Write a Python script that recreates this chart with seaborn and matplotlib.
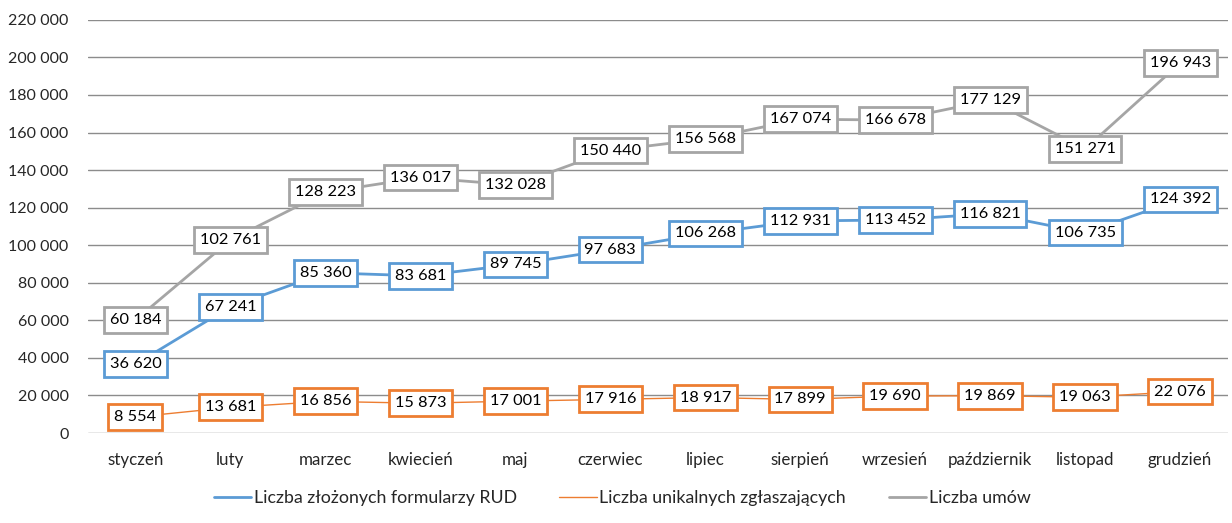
import matplotlib
matplotlib.use("Agg")
import matplotlib.pyplot as plt
import seaborn as sns
import pandas as pd

months = ["styczeń", "luty", "marzec", "kwiecień", "maj", "czerwiec", "lipiec",
          "sierpień", "wrzesień", "październik", "listopad", "grudzień"]
rud = [36620, 67241, 85360, 83681, 89745, 97683, 106268, 112931, 113452, 116821, 106735, 124392]
unikalni = [8554, 13681, 16856, 15873, 17001, 17916, 18917, 17899, 19690, 19869, 19063, 22076]
umowy = [60184, 102761, 128223, 136017, 132028, 150440, 156568, 167074, 166678, 177129, 151271, 196943]
series_names = ["Liczba złożonych formularzy RUD", "Liczba unikalnych zgłaszających", "Liczba umów"]
colors = ["#5B9BD5", "#ED7D31", "#A5A5A5"]
widths = [2.0, 1.0, 2.0]

sns.set_style("white")
plt.rcParams['font.family'] = ['Lato', 'DejaVu Sans']

df = pd.concat([
    pd.DataFrame({"month": months, "value": vals, "series": name})
    for name, vals in zip(series_names, [rud, unikalni, umowy])
])

fig = plt.figure(figsize=(12.32, 5.23), dpi=100)
ax = fig.add_axes([0.0714, 0.172, 0.925, 0.79])

for name, col, lw in zip(series_names, colors, widths):
    sub = df[df["series"] == name]
    sns.lineplot(data=sub, x="month", y="value", color=col, linewidth=lw,
                 ax=ax, label=name, sort=False, zorder=2)

def fmt(v):
    return f"{v:,}".replace(",", " ")

for vals, col in zip([rud, unikalni, umowy], colors):
    for i, v in enumerate(vals):
        ax.annotate(fmt(v), (i, v), ha="center", va="center", fontsize=11.8,
                    color="black", zorder=5,
                    bbox=dict(boxstyle="square,pad=0.36", fc="white", ec=col, lw=2))

ax.set_xlim(-0.5, 11.5)
ax.set_ylim(0, 220000)
ax.set_yticks(range(0, 220001, 20000))
ax.set_yticklabels([fmt(t) for t in range(0, 220001, 20000)], fontsize=11.5)
ax.set_xticks(range(12))
ax.set_xticklabels(months, fontsize=12.2)
ax.tick_params(axis="x", pad=14, length=0)
ax.tick_params(axis="y", pad=14, length=0)
ax.grid(axis="y", color="#8C8C8C", linewidth=1)
ax.set_axisbelow(True)
for s in ax.spines.values():
    s.set_visible(False)
ax.set_xlabel("")
ax.set_ylabel("")

handles, labels = ax.get_legend_handles_labels()
ax.get_legend().remove()
fig.legend(handles, labels, loc="center", bbox_to_anchor=(0.505, 0.048), ncol=3,
           frameon=False, fontsize=12.8, handlelength=2.1, columnspacing=2.4,
           handletextpad=0.15)

fig.savefig("out.png", dpi=100)
